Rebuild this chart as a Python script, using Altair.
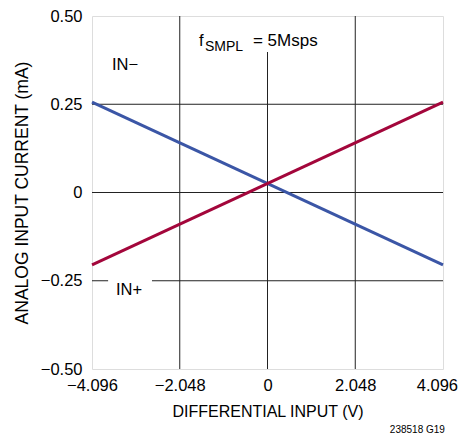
import altair as alt
import pandas as pd

FONT = "Liberation Sans, Arial, sans-serif"

# Data
x_ends = [-4.096, 4.096]
in_minus = [0.256, -0.205]
in_plus = [-0.205, 0.256]

x_ticks = [-4.096, -2.048, 0, 2.048, 4.096]
y_ticks = [-0.5, -0.25, 0, 0.25, 0.5]

lines = pd.DataFrame({
    "x": x_ends * 2,
    "y": in_minus + in_plus,
    "series": ["IN−", "IN−", "IN+", "IN+"],
})

# grid segments (interrupted where labels sit)
vgrid = pd.DataFrame({
    "x": [-2.048, 0, 2.048],
    "y1": [-0.5, -0.5, -0.5],
    "y2": [0.5, 0.398, 0.5],
})
hgrid = pd.DataFrame({
    "y": [0.25, 0, -0.25, -0.25],
    "x1": [-4.096, -4.096, -4.096, -2.696],
    "x2": [4.096, 4.096, -3.72, 4.096],
})

labels = pd.DataFrame({
    "x": [-3.63, -3.536],
    "y": [0.347, -0.29],
    "t": ["IN−", "IN+"],
})

xs = alt.Scale(domain=[-4.096, 4.096], nice=False, zero=False)
ys = alt.Scale(domain=[-0.5, 0.5], nice=False, zero=False)

xaxis = alt.Axis(values=x_ticks, grid=False, ticks=False, domain=False, labelFlush=False,
                 labelOverlap=False,
                 labelAlign={"condition": {"test": "datum.value > 4", "value": "right"}, "value": "center"},
                 labelOffset={"condition": {"test": "datum.value > 4", "value": 14.5}, "value": 0},
                 labelExpr="datum.value == 0 ? '0' : replace(format(datum.value, '.3f'), '-', '−')",
                 labelFont=FONT, labelFontSize=16.5, labelColor="black", labelPadding=8,
                 title="DIFFERENTIAL INPUT (V)", titleFont=FONT, titleFontSize=16,
                 titleFontWeight="normal", titleColor="black", titlePadding=10)
yaxis = alt.Axis(values=y_ticks, grid=False, ticks=False, domain=False, labelFlush=False,
                 labelOverlap=False,
                 labelExpr="datum.value == 0 ? '0' : replace(format(datum.value, '.2f'), '-', '−')",
                 labelFont=FONT, labelFontSize=16.5, labelColor="black", labelPadding=10,
                 title="ANALOG INPUT CURRENT (mA)", titleFont=FONT, titleFontSize=17.5,
                 titleFontWeight="normal", titleColor="black", titlePadding=9)

vg = alt.Chart(vgrid).mark_rule(color="#222", strokeWidth=1).encode(
    x=alt.X("x:Q", scale=xs, axis=xaxis), y=alt.Y("y1:Q", scale=ys, axis=yaxis), y2="y2")
hg = alt.Chart(hgrid).mark_rule(color="#222", strokeWidth=1).encode(
    y=alt.Y("y:Q", scale=ys), x=alt.X("x1:Q", scale=xs), x2="x2")

ln = alt.Chart(lines).mark_line(strokeWidth=3).encode(
    x=alt.X("x:Q", scale=xs), y=alt.Y("y:Q", scale=ys),
    color=alt.Color("series:N", scale=alt.Scale(domain=["IN−", "IN+"], range=["#3b56a6", "#a3063b"]), legend=None),
)

lbl = alt.Chart(labels).mark_text(align="left", baseline="alphabetic", font=FONT, fontSize=16.5, color="black").encode(
    x=alt.X("x:Q", scale=xs), y=alt.Y("y:Q", scale=ys), text="t:N")

ann = pd.DataFrame({"x": [-1.60], "y": [0.415]})
f1 = alt.Chart(ann).mark_text(align="left", baseline="alphabetic", font=FONT, fontSize=16.5, color="black", text="f").encode(
    x=alt.X("x:Q", scale=xs), y=alt.Y("y:Q", scale=ys))
f2 = alt.Chart(ann).mark_text(align="left", baseline="alphabetic", font=FONT, fontSize=14, color="black", text="SMPL", dx=6, dy=5).encode(
    x=alt.X("x:Q", scale=xs), y=alt.Y("y:Q", scale=ys))
f3 = alt.Chart(ann).mark_text(align="left", baseline="alphabetic", font=FONT, fontSize=17, color="black", text="= 5Msps", dx=54).encode(
    x=alt.X("x:Q", scale=xs), y=alt.Y("y:Q", scale=ys))

code = pd.DataFrame({"x": [4.14], "y": [-0.68], "t": ["238518 G19"]})
cd = alt.Chart(code).mark_text(align="right", baseline="alphabetic", font=FONT, fontSize=10, color="black").encode(
    x=alt.X("x:Q", scale=xs), y=alt.Y("y:Q", scale=ys), text="t:N")

chart = alt.layer(vg, hg, ln, lbl, f1, f2, f3, cd).properties(
    width=351, height=353,
    autosize=alt.AutoSizeParams(type="none"),
    padding={"left": 84, "top": 8, "right": 15, "bottom": 70},
).configure_view(stroke="black", strokeWidth=2).configure(background="white")

chart.save("out.html", embed_options={"renderer": "svg", "actions": False})
